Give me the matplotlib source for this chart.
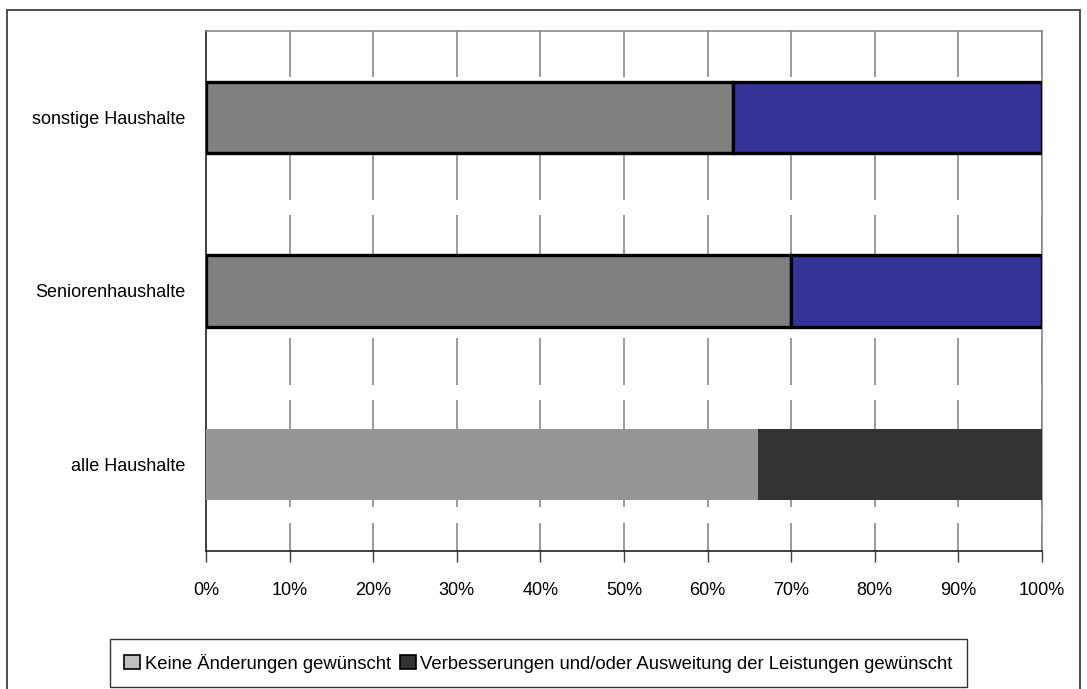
import matplotlib
matplotlib.use("Agg")
import matplotlib.pyplot as plt
from matplotlib.patches import Rectangle, Patch
from matplotlib.ticker import PercentFormatter

plt.rcParams['font.family'] = ['Liberation Sans', 'DejaVu Sans']

# Survey shares (percent), bottom to top
categories = ["alle Haushalte", "Seniorenhaushalte", "sonstige Haushalte"]
keine_aenderung = [66, 70, 63]
verbesserung = [34, 30, 37]
series_labels = ["Keine Änderungen gewünscht",
                 "Verbesserungen und/oder Ausweitung der Leistungen gewünscht"]
xticks = [0, 10, 20, 30, 40, 50, 60, 70, 80, 90, 100]

# bar styling per category (fill left, fill right, outline)
left_colors = ["#969696", "#808080", "#808080"]
right_colors = ["#333333", "#333399", "#333399"]
edge_widths = [0, 2.4, 2.4]

fig = plt.figure(figsize=(10.87, 6.89), dpi=100)
ax = fig.add_axes([0.1895, 0.2003, 0.7691, 0.7547])

# outer chart frame
fig.patches.append(Rectangle((7 / 1087, -0.05), (1080 - 7) / 1087, 1.05 - 10 / 689,
                             transform=fig.transFigure, fill=False,
                             edgecolor="#404040", linewidth=1.3, zorder=0))

ypos = list(range(len(categories)))
height = 0.41

# gridlines drawn as broken segments between the bars
gaps = [(2.205, 2.235), (1.439, 1.525), (0.729, 0.792), (0.371, 0.458),
        (-0.338, -0.246)]
segments = []
lo = -0.5
for g0, g1 in sorted(gaps):
    segments.append((lo, g0))
    lo = g1
segments.append((lo, 2.5))
for t in xticks[1:]:
    for s0, s1 in segments:
        ax.vlines(t, s0, s1, colors="#808080", linewidth=1.1, zorder=1)

for i, y in enumerate(ypos):
    ax.barh(y, keine_aenderung[i], height=height, color=left_colors[i],
            edgecolor="black", linewidth=edge_widths[i], zorder=3)
    ax.barh(y, verbesserung[i], left=keine_aenderung[i], height=height,
            color=right_colors[i], edgecolor="black", linewidth=edge_widths[i],
            zorder=3)

ax.set_xlim(0, 100)
ax.set_ylim(-0.5, 2.5)
ax.set_xticks(xticks)
ax.xaxis.set_major_formatter(PercentFormatter(decimals=0))
ax.set_yticks(ypos)
ax.set_yticklabels(categories)
ax.tick_params(axis="y", length=0, pad=15, labelsize=13)
ax.tick_params(axis="x", length=8, width=1, color="#404040", pad=14, labelsize=13)

for side in ("top", "right"):
    ax.spines[side].set_color("#808080")
    ax.spines[side].set_linewidth(1.1)
for side in ("left", "bottom"):
    ax.spines[side].set_color("#202020")
    ax.spines[side].set_linewidth(1.2)

handles = [Patch(facecolor="#C0C0C0", edgecolor="black", linewidth=1.2),
           Patch(facecolor="#333333", edgecolor="black", linewidth=1.2)]
leg = fig.legend(handles, series_labels, loc="center",
                 bbox_to_anchor=(0.4954, 0.0377), ncol=2, fontsize=13.3,
                 frameon=True, fancybox=False, handlelength=0.85,
                 handleheight=0.85, handletextpad=0.25, columnspacing=0.5,
                 borderpad=0.8, borderaxespad=0)
leg.get_frame().set_edgecolor("black")
leg.get_frame().set_linewidth(1.0)

fig.savefig("out.png", dpi=100)
